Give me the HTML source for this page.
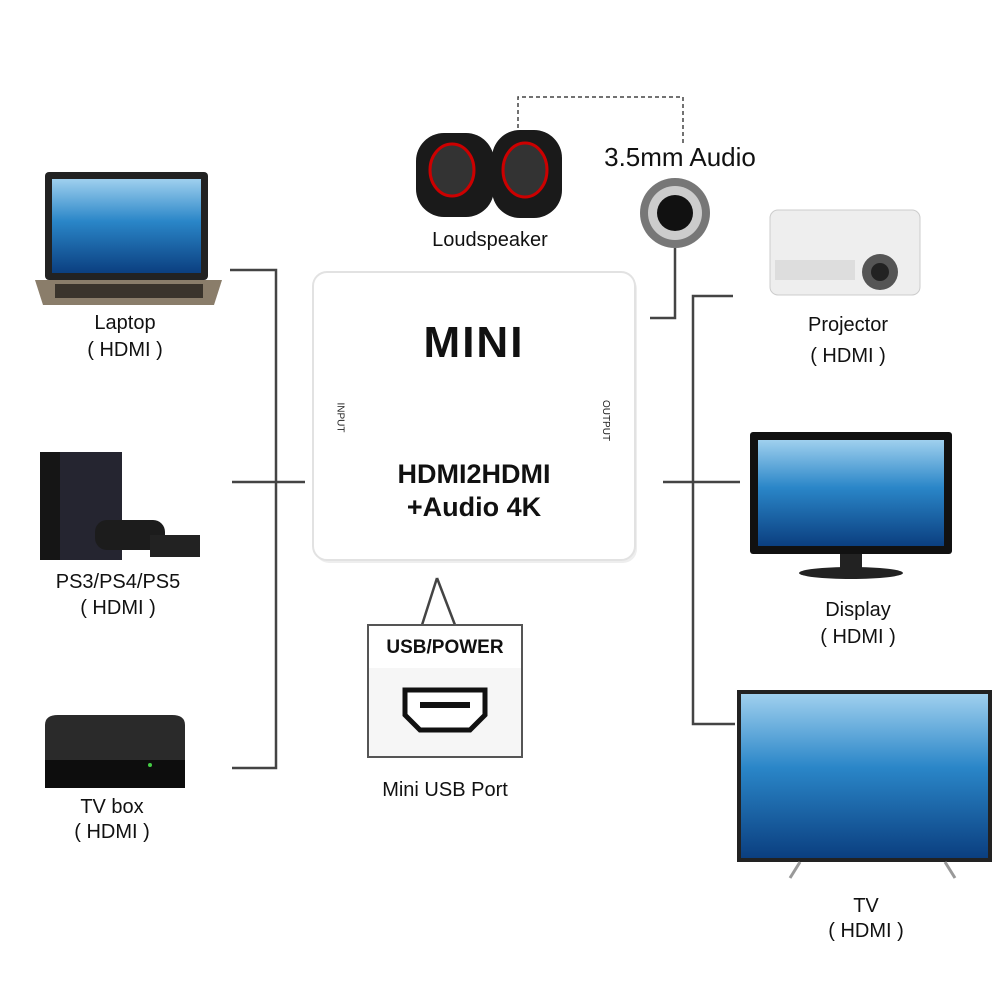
<!DOCTYPE html>
<html><head><meta charset="utf-8"><style>
body{margin:0;width:1000px;height:1000px;background:#fff;position:relative;overflow:hidden;font-family:"Liberation Sans",sans-serif;}
.t{position:absolute;font-size:20px;color:#111;text-align:center;white-space:nowrap;transform:translateX(-50%);}
</style></head><body>
<svg width="1000" height="1000" style="position:absolute;left:0;top:0">
<defs>
<linearGradient id="sea" x1="0" y1="0" x2="0" y2="1"><stop offset="0" stop-color="#9fd0ee"/><stop offset="0.45" stop-color="#2a86c8"/><stop offset="1" stop-color="#0b3f80"/></linearGradient>
</defs>
<g stroke="#444" stroke-width="2.5" fill="none">
<path d="M230 270H276V768H232M232 482H305"/>
<path d="M733 296H693V724H735M663 482H740"/>
<path d="M675 248V318H650"/>
<path d="M437 578L422 625M437 578L455 625"/>
</g>
<path d="M518 128V97H683V145" stroke="#444" stroke-width="1.5" stroke-dasharray="4 3" fill="none"/>
<rect x="45" y="172" width="163" height="108" rx="4" fill="#222"/>
<rect x="52" y="179" width="149" height="94" fill="url(#sea)"/>
<path d="M35 280H222L214 305H43Z" fill="#8a7d6a"/>
<rect x="55" y="284" width="148" height="14" fill="#3a342c"/>
<rect x="40" y="452" width="70" height="108" fill="#151515"/>
<rect x="60" y="452" width="62" height="108" fill="#252530"/>
<rect x="95" y="520" width="70" height="30" rx="12" fill="#1c1c1c"/>
<rect x="150" y="535" width="50" height="22" fill="#222"/>
<path d="M45 725Q45 715 58 715H172Q185 715 185 725V783H45Z" fill="#2a2a2a"/>
<rect x="45" y="760" width="140" height="28" fill="#0d0d0d"/>
<circle cx="150" cy="765" r="2" fill="#4c4"/>
<rect x="315" y="275" width="322" height="288" rx="14" fill="#eee"/>
<rect x="313" y="272" width="322" height="288" rx="14" fill="#fff" stroke="#e2e2e2" stroke-width="2"/>
<rect x="416" y="133" width="78" height="84" rx="28" fill="#1a1a1a"/>
<ellipse cx="452" cy="170" rx="22" ry="26" fill="#333" stroke="#c00" stroke-width="3"/>
<rect x="492" y="130" width="70" height="88" rx="28" fill="#1a1a1a"/>
<ellipse cx="525" cy="170" rx="22" ry="27" fill="#333" stroke="#c00" stroke-width="3"/>
<circle cx="675" cy="213" r="35" fill="#777"/>
<circle cx="675" cy="213" r="27" fill="#ccc"/>
<circle cx="675" cy="213" r="18" fill="#111"/>
<rect x="770" y="210" width="150" height="85" rx="8" fill="#eee" stroke="#ccc"/>
<circle cx="880" cy="272" r="18" fill="#555"/><circle cx="880" cy="272" r="9" fill="#222"/>
<rect x="775" y="260" width="80" height="20" fill="#ddd"/>
<rect x="750" y="432" width="202" height="122" rx="3" fill="#111"/>
<rect x="758" y="440" width="186" height="106" fill="url(#sea)"/>
<rect x="840" y="554" width="22" height="16" fill="#222"/>
<ellipse cx="851" cy="573" rx="52" ry="6" fill="#222"/>
<rect x="737" y="690" width="255" height="172" fill="#222"/>
<rect x="741" y="694" width="247" height="164" fill="url(#sea)"/>
<path d="M800 862L790 878M945 862L955 878" stroke="#999" stroke-width="3"/>
<rect x="368" y="625" width="154" height="132" fill="#fff" stroke="#555" stroke-width="2"/>
<rect x="369" y="668" width="152" height="88" fill="#f6f6f6"/>
<path d="M405 690H485V715L470 730H420L405 715Z" fill="#fff" stroke="#111" stroke-width="5"/>
<rect x="420" y="702" width="50" height="6" fill="#111"/>
</svg>
<div style="position:absolute;left:474px;top:318px;transform:translateX(-50%);font-size:44px;font-weight:900;letter-spacing:2px;color:#111">MINI</div>
<div style="position:absolute;left:474px;top:458px;transform:translateX(-50%);font-size:27px;font-weight:bold;color:#111;text-align:center;line-height:33px;white-space:nowrap">HDMI2HDMI<br>+Audio 4K</div>
<div style="position:absolute;left:325px;top:412px;font-size:10px;transform:rotate(90deg);color:#222">INPUT</div>
<div style="position:absolute;left:585px;top:415px;font-size:10px;transform:rotate(90deg);color:#222">OUTPUT</div>
<div class="t" style="left:680px;top:142px;font-size:26px">3.5mm Audio</div>
<div class="t" style="left:490px;top:229px">Loudspeaker</div>
<div class="t" style="left:125px;top:310px;line-height:27px">Laptop<br>( HDMI )</div>
<div class="t" style="left:118px;top:569px;line-height:26px">PS3/PS4/PS5<br>( HDMI )</div>
<div class="t" style="left:112px;top:795px;line-height:25px">TV box<br>( HDMI )</div>
<div class="t" style="left:848px;top:310px;line-height:31px">Projector<br>( HDMI )</div>
<div class="t" style="left:858px;top:597px;line-height:27px">Display<br>( HDMI )</div>
<div class="t" style="left:866px;top:894px;line-height:25px">TV<br>( HDMI )</div>
<div class="t" style="left:445px;top:637px;font-weight:bold;font-size:19px">USB/POWER</div>
<div class="t" style="left:445px;top:779px">Mini USB Port</div>
</body></html>
